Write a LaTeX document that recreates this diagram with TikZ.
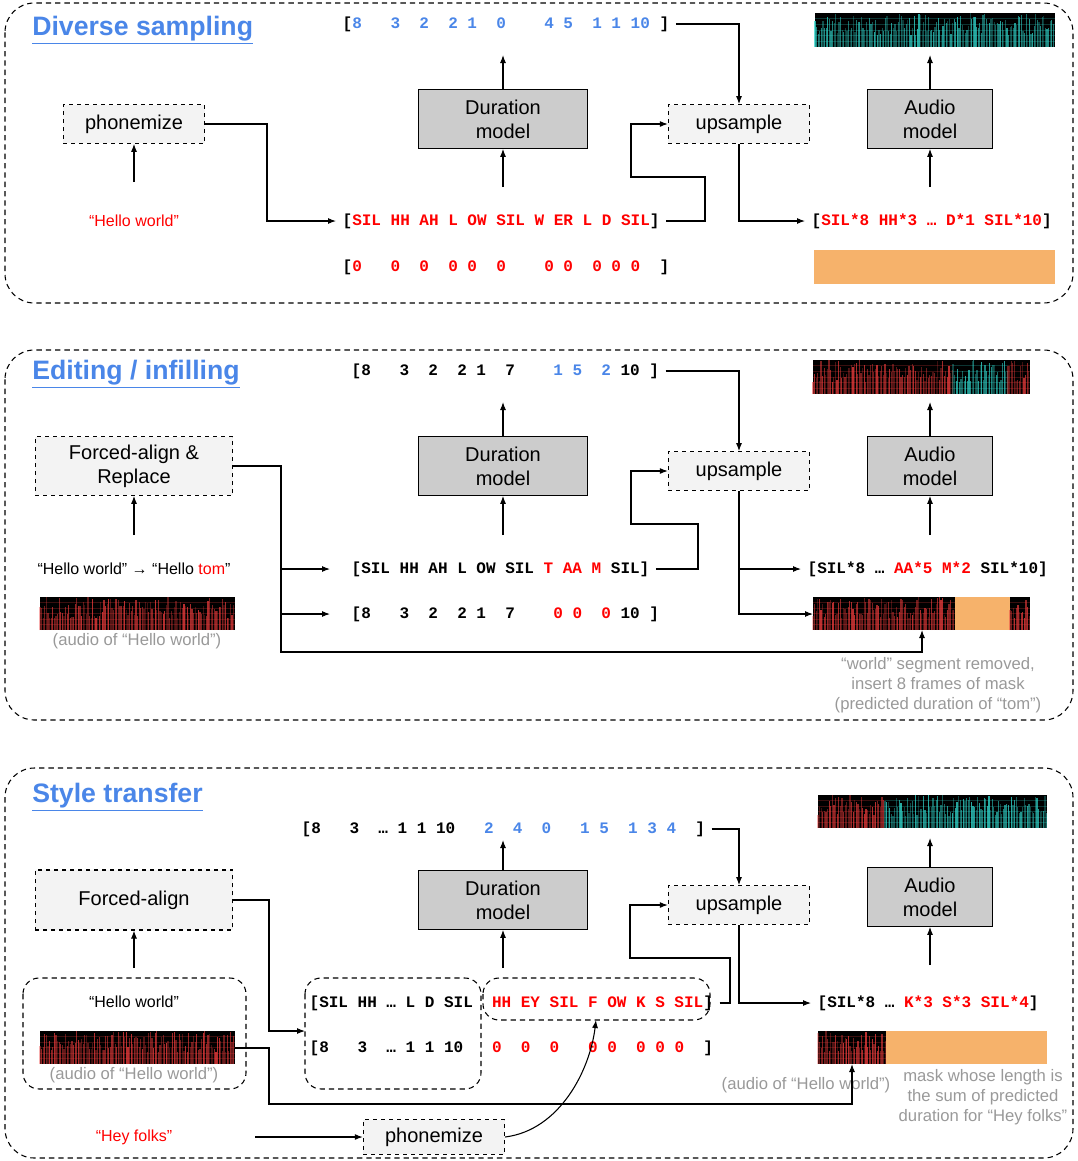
\documentclass[tikz,border=0pt]{standalone}
\usepackage{fontspec}
\setmainfont{Liberation Sans}
\newfontfamily\monofont{Liberation Mono}
\usetikzlibrary{arrows.meta}
\definecolor{txtred}{RGB}{255,0,0}
\definecolor{txtblue}{RGB}{74,134,232}
\definecolor{boxgray}{RGB}{204,204,204}
\definecolor{boxlight}{RGB}{243,243,243}
\definecolor{maskorange}{RGB}{246,178,107}
\definecolor{capgray}{RGB}{153,153,153}
\definecolor{specred}{RGB}{235,60,60}
\definecolor{speccyan}{RGB}{50,215,205}
\newcommand\rd[1]{\textcolor{txtred}{#1}}
\newcommand\bl[1]{\textcolor{txtblue}{#1}}
% spectrogram strip: x1 y1 x2 y2 colour
\newcommand\spec[5]{%
  \fill[black] (#1,#2) rectangle (#3,#4);
  \pgfmathtruncatemacro\nn{(#3-#1)/1.6}
  \foreach \k in {0,...,\nn}{
    \pgfmathsetmacro\xx{#1+\k*1.6}
    \pgfmathsetmacro\hh{(0.35+0.65*rnd)*(#4-#2)}
    \pgfmathsetmacro\op{0.25+0.55*rnd}
    \draw[#5,line width=0.8pt,opacity=\op] (\xx,#4) -- (\xx,#4-\hh);
  }
  \foreach \k in {1,...,5}{
    \pgfmathsetmacro\yy{#2+\k*(#4-#2)/6}
    \draw[#5,opacity=0.25,line width=0.3pt] (#1,\yy) -- (#3,\yy);
  }
}
\tikzset{
  model/.style={draw,thick,fill=boxgray,minimum height=44pt,align=center,font=\fontsize{15}{18}\selectfont},
  proc/.style={draw,thick,dashed,fill=boxlight,minimum height=29pt,minimum width=106pt,align=center,font=\fontsize{15}{18}\selectfont},
  seq/.style={anchor=west,inner sep=0,outer sep=5pt,font=\monofont\bfseries\fontsize{12}{14}\selectfont},
  plain/.style={inner sep=0,font=\fontsize{12}{14}\selectfont},
  note/.style={inner sep=0,text=capgray,align=center,font=\fontsize{12.5}{15}\selectfont},
  title/.style={anchor=west,inner sep=0,text=txtblue,font=\bfseries\fontsize{20}{24}\selectfont},
  panel/.style={thick,dash pattern=on 4pt off 3pt,rounded corners=22pt},
  group/.style={thick,dash pattern=on 4pt off 3pt,rounded corners=12pt},
  arr/.style={thick,-{Latex[length=6pt,width=4.5pt]}},
}

\begin{document}
\begin{tikzpicture}[x={(0.75pt,0)},y={(0,-0.75pt)}]
\useasboundingbox (0,0) rectangle (1078,1161);
\pgfmathsetseed{11}

% ---- diverse sampling
\draw[panel] (5,3) rectangle (1073,303);
\node[title] (t1) at (32,30) {\underline{Diverse sampling}};
\node[proc] (ph1) at (134,124) {phonemize};
\node[plain,text=txtred] (hw1) at (134,221) {“Hello world”};
\coordinate (hw1up) at (134,182);
\node[seq] (sq1) at (336,221) {[\rd{SIL~HH~AH~L~OW~SIL~W~ER~L~D~SIL}]};
\node[seq] (zr1) at (336,267) {[\rd{0~~~0~~0~~0~0~~0~~~~0~0~~0~0~0}~~]};
\node[seq] (top1) at (336,24) {[\bl{8~~~3~~2~~2~1~~0~~~~4~5~~1~1~10}~]};
\node[model,minimum width=127pt] (dur1) at (503,119) {Duration\\model};
\node[proc] (up1) at (739,124) {upsample};
\node[seq] (ex1) at (805,221) {[\rd{SIL*8~HH*3~…~D*1~SIL*10}]};
\fill[maskorange] (814,250) rectangle (1055,284);
\node[model,minimum width=94pt] (aud1) at (930,119) {Audio\\model};
\spec{815}{13}{1055}{47}{speccyan}
\coordinate (sp1) at (930,55);
\coordinate (du1) at (503,55);
\coordinate (du1in) at (503,187);
\coordinate (au1in) at (930,187);

\draw[arr] (hw1up) -- (ph1.south);
\draw[arr] (ph1.east) -| (267,221) -- (sq1.west);
\draw[arr] (du1in) -- (dur1.south);
\draw[arr] (dur1.north) -- (du1);
\draw[arr] (top1.east) -| (up1.north);
\draw[arr] (sq1.east) -- (705,221) -- (705,177) -- (631,177) |- (up1.west);
\draw[arr] (up1.south) |- (ex1.west);
\draw[arr] (au1in) -- (aud1.south);
\draw[arr] (aud1.north) -- (sp1);

% ---- editing / infilling
\draw[panel] (5,350) rectangle (1073,720);
\node[title] (t2) at (32,374) {\underline{Editing / infilling}};
\node[proc,minimum width=148pt,minimum height=44pt] (fa2) at (134,466) {Forced-align \&\\Replace};
\coordinate (txt2up) at (134,535);
\node[plain] (txt2) at (134,569) {“Hello world” → “Hello \rd{tom}”};
\spec{40}{597}{235}{630}{specred}
\node[note] (c2) at (137,641) {(audio of “Hello world”)};
\node[seq] (top2) at (345,371) {[8~~~3~~2~~2~1~~7~~~~\bl{1~5~~2}~10~]};
\node[seq] (sq2) at (345,569) {[SIL~HH~AH~L~OW~SIL~\rd{T~AA~M}~SIL]};
\node[seq] (zr2) at (345,614) {[8~~~3~~2~~2~1~~7~~~~\rd{0~0~~0}~10~]};
\node[model,minimum width=127pt] (dur2) at (503,466) {Duration\\model};
\node[proc] (up2) at (739,471) {upsample};
\node[seq] (ex2) at (801,569) {[SIL*8~…~\rd{AA*5~M*2}~SIL*10]};
\spec{813}{597}{955}{630}{specred}
\fill[maskorange] (955,597) rectangle (1010,630);
\spec{1010}{597}{1030}{630}{specred}
\coordinate (sp2in) at (813,614);
\coordinate (sp2b) at (922,630);
\node[note] (c2b) at (938,685) {“world” segment removed,\\insert 8 frames of mask\\(predicted duration of “tom”)};
\node[model,minimum width=94pt] (aud2) at (930,466) {Audio\\model};
\spec{813}{360}{953}{394}{specred}
\spec{953}{360}{1008}{394}{speccyan}
\spec{1008}{360}{1030}{394}{specred}
\coordinate (sp2) at (930,402);
\coordinate (du2) at (503,402);
\coordinate (du2in) at (503,535);
\coordinate (au2in) at (930,535);

\draw[arr] (txt2up) -- (fa2.south);
\draw[arr] (fa2.east) -| (281,652) -| (sp2b);
\draw[arr] (281,569) -- (330,569);
\draw[arr] (281,614) -- (330,614);
\draw[arr] (du2in) -- (dur2.south);
\draw[arr] (dur2.north) -- (du2);
\draw[arr] (top2.east) -| (up2.north);
\draw[arr] (sq2.east) -- (698,569) -- (698,524) -- (631,524) |- (up2.west);
\draw[arr] (up2.south) |- (sp2in);
\draw[arr] (739,569) -- (ex2.west);
\draw[arr] (au2in) -- (aud2.south);
\draw[arr] (aud2.north) -- (sp2);

% ---- style transfer
\draw[panel] (5,768) rectangle (1073,1158);
\node[title] (t3) at (32,797) {\underline{Style transfer}};
\node[proc,minimum width=148pt,minimum height=45pt] (fa3) at (134,900) {Forced-align};
\coordinate (g3up) at (134,968);
\draw[group] (23,978) rectangle (246,1089);
\node[plain] (hw3) at (134,1002) {“Hello world”};
\spec{40}{1031}{235}{1064}{specred}
\coordinate (sp3l) at (235,1048);
\node[note] (c3) at (134,1075) {(audio of “Hello world”)};
\node[plain,text=txtred] (hf3) at (134,1137) {“Hey folks”};
\coordinate (hf3r) at (255,1137);
\node[proc,minimum height=26pt] (ph3) at (434,1137) {phonemize};
\draw[group] (305,978) rectangle (481,1089);
\coordinate (g3l) at (305,1031);
\draw[group] (483,978) rectangle (710,1020);
\coordinate (g3r) at (596,1020);
\node[seq] (sq3) at (303,1003) {[SIL~HH~…~L~D~SIL~~\rd{HH~EY~SIL~F~OW~K~S~SIL}]};
\node[seq] (zr3) at (303,1048) {[8~~~3~~…~1~1~10~~~\rd{0~~0~~0~~~0~0~~0~0~0}~~]};
\node[seq] (top3) at (295,829) {[8~~~3~~…~1~1~10~~~\bl{2~~4~~0~~~1~5~~1~3~4}~~]};
\node[model,minimum width=127pt] (dur3) at (503,900) {Duration\\model};
\node[proc] (up3) at (739,905) {upsample};
\node[seq] (ex3) at (811,1003) {[SIL*8~…~\rd{K*3~S*3~SIL*4}]};
\spec{818}{1031}{886}{1064}{specred}
\fill[maskorange] (886,1031) rectangle (1047,1064);
\coordinate (sp3b) at (852,1064);
\node[note] (c3b) at (806,1085) {(audio of “Hello world”)};
\node[note] (c3c) at (983,1097) {mask whose length is\\the sum of predicted\\duration for “Hey folks”};
\node[model,minimum width=94pt] (aud3) at (930,897) {Audio\\model};
\spec{818}{795}{885}{828}{specred}
\spec{885}{795}{1047}{828}{speccyan}
\coordinate (sp3) at (930,838);
\coordinate (du3) at (503,840);
\coordinate (du3in) at (503,968);
\coordinate (au3in) at (930,965);

\draw[arr] (g3up) -- (fa3.south);
\draw[arr] (fa3.east) -| (269,1031) -- (g3l);
\draw[arr] (sp3l) -| (269,1104) -| (sp3b);
\draw[arr] (hf3r) -- (ph3.west);
\draw[arr] (ph3.east) .. controls (560,1130) and (590,1070) .. (g3r);
\draw[arr] (du3in) -- (dur3.south);
\draw[arr] (dur3.north) -- (du3);
\draw[arr] (top3.east) -| (up3.north);
\draw[arr] (sq3.east) -- (730,1003) -- (730,958) -- (630,958) |- (up3.west);
\draw[arr] (up3.south) |- (ex3.west);
\draw[arr] (au3in) -- (aud3.south);
\draw[arr] (aud3.north) -- (sp3);
\end{tikzpicture}
\end{document}
